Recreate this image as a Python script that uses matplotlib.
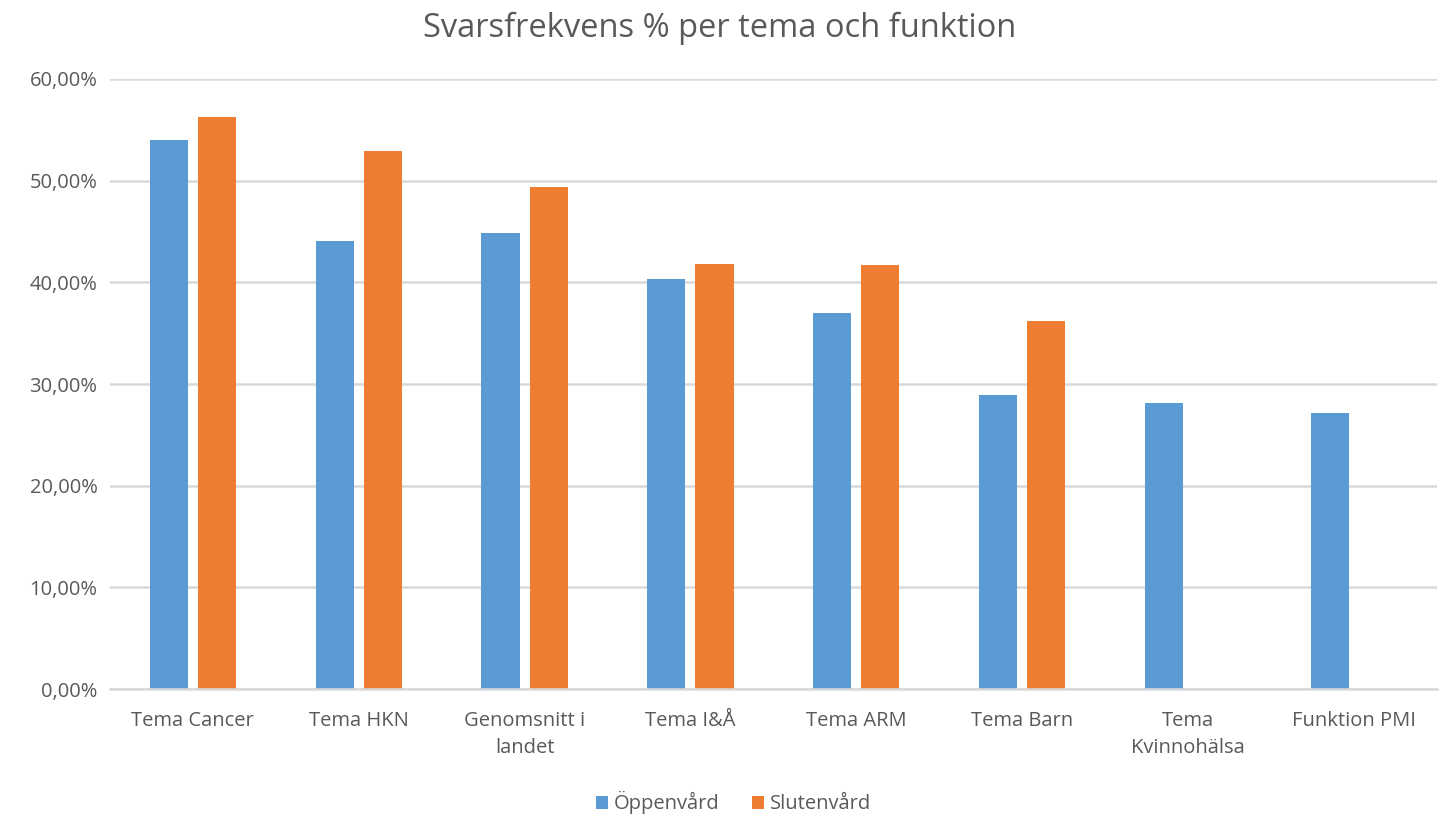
import matplotlib.pyplot as plt
import numpy as np
from matplotlib.ticker import FuncFormatter

plt.rcParams['font.family'] = ['Open Sans', 'DejaVu Sans']

kategorier = ['Tema Cancer', 'Tema HKN', 'Genomsnitt i\nlandet', 'Tema I&Å', 'Tema ARM',
              'Tema Barn', 'Tema\nKvinnohälsa', 'Funktion PMI']
oppenvard = [54.0, 44.1, 44.85, 40.35, 36.95, 28.95, 28.1, 27.1]
slutenvard = [56.25, 52.9, 49.35, 41.85, 41.7, 36.15, 0, 0]

blue = '#5b9bd5'
orange = '#ed7d31'
grey = '#595959'

fig = plt.figure(figsize=(14.39, 8.16), dpi=100)
ax = fig.add_axes([0.0764, 0.1556, 0.922, 0.7476])

x = np.arange(len(kategorier))
w = 0.23
ax.bar(x - 0.145, oppenvard, w, color=blue, label='Öppenvård', zorder=3)
ax.bar(x[:6] + 0.145, slutenvard[:6], w, color=orange, label='Slutenvård', zorder=3)

ax.set_xlim(-0.5, len(kategorier) - 0.5)
ax.set_ylim(0, 60)
ax.set_yticks(np.arange(0, 61, 10))
ax.yaxis.set_major_formatter(FuncFormatter(lambda v, p: f'{v:.2f}%'.replace('.', ',')))
ax.grid(axis='y', color='#d9d9d9', linewidth=1.8, zorder=0)
for s in ['top', 'right', 'left']:
    ax.spines[s].set_visible(False)
ax.spines['bottom'].set_color('#d9d9d9')
ax.spines['bottom'].set_linewidth(1.8)
ax.spines['bottom'].set_zorder(4)
ax.tick_params(axis='both', length=0, colors=grey, labelsize=14.5)
ax.tick_params(axis='x', pad=16)
ax.tick_params(axis='y', pad=9)
ax.set_xticks(x)
ax.set_xticklabels(kategorier, linespacing=1.45)

fig.suptitle('Svarsfrekvens % per tema och funktion', y=0.985, fontsize=23.5, color=grey)

ax.legend(loc='lower center', bbox_to_anchor=(0.47, -0.235), ncol=2, frameon=False,
          fontsize=14.5, labelcolor=grey, handlelength=0.6, handleheight=0.6,
          handletextpad=0.3, columnspacing=1.6)

fig.savefig('out.png', dpi=100)
